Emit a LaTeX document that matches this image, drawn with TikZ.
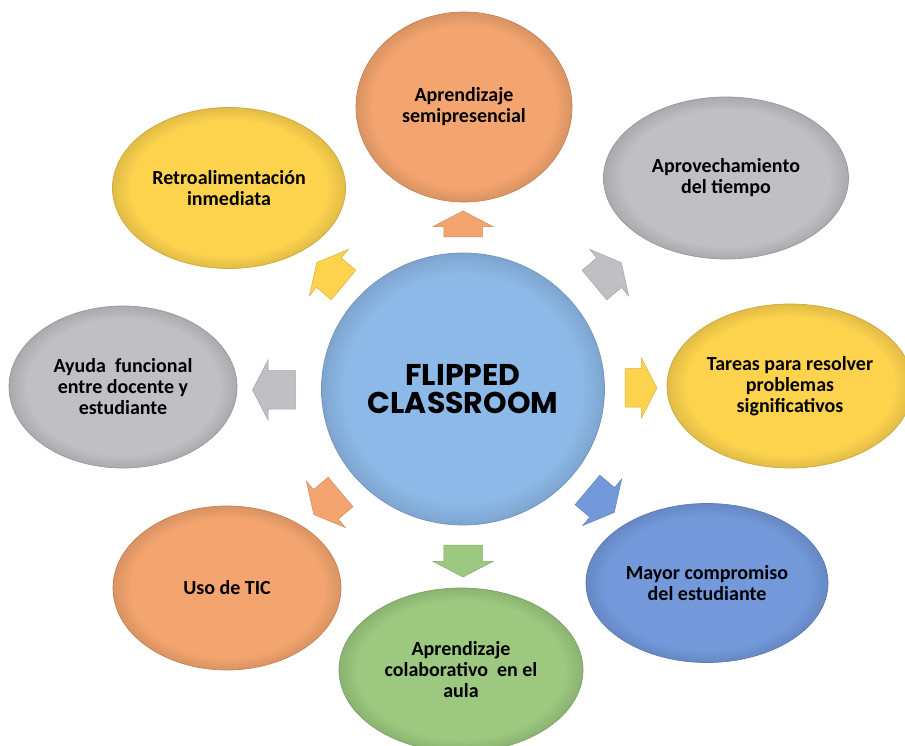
\documentclass[tikz,border=0pt]{standalone}
\usepackage{fontspec}
\setmainfont{Carlito}
\newfontfamily\geofont{Poppins}
\usetikzlibrary{shapes.geometric,shapes.arrows}
\definecolor{cOrange}{HTML}{F4A56F}
\definecolor{cYellow}{HTML}{FDD34E}
\definecolor{cGrey}{HTML}{BFBFC4}
\definecolor{cBlue}{HTML}{7399DB}
\definecolor{cGreen}{HTML}{9CC97F}
\definecolor{cCenter}{HTML}{8DB9E8}
\colorlet{rimA}{white}
\colorlet{rimB}{black}
\pgfdeclareradialshading[rimA,rimB]{rim}{\pgfpoint{0bp}{0bp}}{color(0bp)=(rimA); color(21bp)=(rimA); color(25bp)=(rimB); color(50bp)=(rimB)}
\tikzset{
  ell/.style={ellipse, inner sep=0pt, align=center,
    font=\bfseries\fontsize{20}{21}\selectfont,
    draw=#1!80!black, line width=0.7pt,
    /utils/exec={\colorlet{rimA}{#1}\colorlet{rimB}{#1!89!black}},
    shading=rim},
  blk/.style={single arrow, inner xsep=0pt, inner ysep=19pt, draw=#1!85!black, fill=#1,
    line width=0.5pt,
    single arrow head extend=11pt, single arrow tip angle=125}
}
\begin{document}
\begin{tikzpicture}[x=1pt,y=1pt]
\useasboundingbox (0,0) rectangle (905,745);
\fill[white] (0,0) rectangle (905,745);
% outer ellipses
\node[ell=cOrange, minimum width=216pt, minimum height=190pt] (semi) at (464,638) {Aprendizaje\\semipresencial};
\node[ell=cGrey, minimum width=245pt, minimum height=162pt] (aprov) at (726,567) {Aprovechamiento\\del tiempo};
\node[ell=cYellow, minimum width=246pt, minimum height=164pt] (tareas) at (790,359) {Tareas para resolver\\problemas\\significativos};
\node[ell=cBlue, minimum width=242pt, minimum height=159pt] (mayor) at (707,162) {Mayor compromiso\\del estudiante};
\node[ell=cGreen, minimum width=244pt, minimum height=164pt] (colab) at (461,75) {Aprendizaje\\colaborativo~~en el\\aula};
\node[ell=cOrange, minimum width=228pt, minimum height=164pt] (tic) at (227,157) {Uso de TIC};
\node[ell=cGrey, minimum width=228pt, minimum height=162pt] (ayuda) at (123,358) {Ayuda~~funcional\\entre docente y\\estudiante};
\node[ell=cYellow, minimum width=233pt, minimum height=161pt] (retro) at (229,557) {Retroalimentaci\'on\\inmediata};
% centre
\node[ell=cCenter, minimum width=283pt, minimum height=272pt,
  font=\geofont\bfseries\fontsize{30}{28}\selectfont] (flip) at (463,356) {FLIPPED\\CLASSROOM};
% block arrows
\node[blk=cOrange, minimum height=26pt, rotate=90] (aN) at (463,516) {};
\node[blk=cGrey, minimum height=35pt, rotate=40] (aNE) at (604,468) {};
\node[blk=cYellow, minimum height=32pt, rotate=0] (aE) at (636,357) {};
\node[blk=cBlue, minimum height=35pt, rotate=320] (aSE) at (597,247) {};
\node[blk=cGreen, minimum height=32pt, rotate=270] (aS) at (463,189) {};
\node[blk=cOrange, minimum height=35pt, rotate=220] (aSW) at (331,245) {};
\node[blk=cGrey, minimum height=43pt, rotate=180] (aW) at (279,355) {};
\node[blk=cYellow, minimum height=35pt, rotate=140] (aNW) at (334,468) {};
\end{tikzpicture}
\end{document}
